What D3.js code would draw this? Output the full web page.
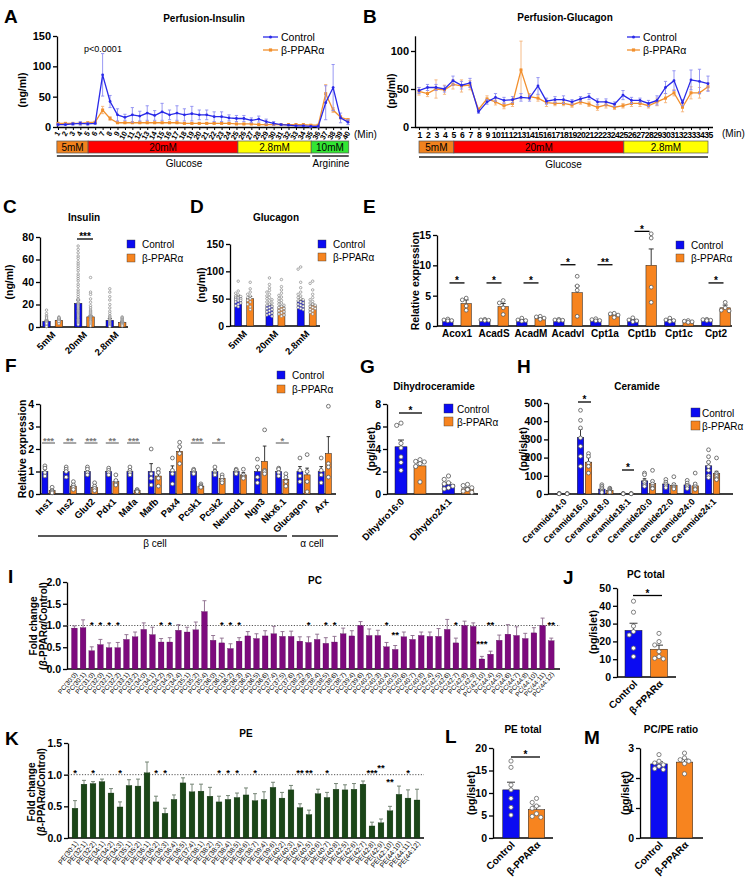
<!DOCTYPE html>
<html><head><meta charset="utf-8">
<script src="https://cdn.jsdelivr.net/npm/d3@7/dist/d3.min.js"></script>
<style>
html,body{margin:0;padding:0;background:#fff;}
svg{display:block;font-family:Arial,"Liberation Sans",Helvetica,sans-serif;}
</style></head><body>
<svg id="fig" width="745" height="881"></svg>
<script>
const FONT='Arial, "Liberation Sans", Helvetica, sans-serif';
// ================= DATA =================
const groupNames=["Control","β-PPARα"];
// A: perfusion insulin
const minA=[1,2,3,4,5,6,7,8,9,10,11,12,13,14,15,16,17,18,19,20,21,22,23,24,25,26,27,28,29,30,31,32,33,34,35,36,37,38,39,40];
const insCtrl=[4,4,5,6,5,6,86,42,20,16,20,18,23,19,25,20,23,20,22,20,20,17,17,15,14,14,11,13,9,6,4,3,2,2,1,1,40,65,15,8];
const insCtrlErr=[2,2,2,3,2,2,35,10,10,5,12,8,12,8,14,8,12,10,12,8,8,8,8,5,5,5,4,5,4,3,1,1,1,1,1,1,28,38,8,4];
const insPP=[6,6,6,6,7,8,28,14,7,7,7,7,7,7,7,7,7,6,6,6,6,6,6,6,5,5,5,4,4,4,4,4,4,4,3,3,55,28,16,12];
const insPPErr=[1,1,1,1,1,1,6,3,1,1,1,1,1,1,1,1,1,1,1,1,1,1,1,1,1,1,1,1,1,1,1,1,1,1,1,1,15,4,3,2];
const condA=[{lab:"5mM",from:0.85,to:5.05,col:"#f0821e"},{lab:"20mM",from:5.05,to:25.2,col:"#ff0000"},{lab:"2.8mM",from:25.2,to:35.05,col:"#ffff00"},{lab:"10mM",from:35.05,to:40.1,col:"#33e633"}];
// B: perfusion glucagon
const minB=[1,2,3,4,5,6,7,8,9,10,11,12,13,14,15,16,17,18,19,20,21,22,23,24,25,26,27,28,29,30,31,32,33,34,35];
const gluCtrl=[48,52,52,50,61,55,58,20,33,39,35,36,39,38,54,34,36,36,33,37,40,33,33,30,42,35,35,31,35,52,61,32,62,60,57];
const gluCtrlErr=[4,4,4,4,6,5,6,2,3,5,4,4,5,4,11,4,4,5,3,3,4,4,4,3,6,4,3,4,6,8,13,4,13,16,10];
const gluPP=[47,44,50,49,56,54,55,23,37,33,28,31,75,40,38,32,31,31,29,33,30,26,29,26,28,31,31,28,33,38,45,26,45,45,53];
const gluPPErr=[5,4,12,6,6,8,6,2,4,4,4,4,38,4,4,5,3,3,3,3,3,4,4,3,3,4,4,3,5,6,4,6,8,7,5];
const condB=[{lab:"5mM",from:1,to:5.1,col:"#f0821e"},{lab:"20mM",from:5.1,to:25.1,col:"#ff0000"},{lab:"2.8mM",from:25.1,to:35,col:"#ffff00"}];
// C, D: static secretion
const glucoseCats=["5mM","20mM","2.8mM"];
const cCtrl=[5,21,6], cCtrlErr=[1,3,1.5], cPP=[6,9,4], cPPErr=[0.5,1,0.6];
const cCtrlDots=[[15,12,10,9,7,6,6,5,5,4,4,3,3,3,2,2,2,1,1,1,0.5,0.5,4,8,3],
 [72,69,66,63,61,58,56,54,52,50,47,45,43,41,38,36,33,31,29,27,25,24,22,21,20,19,18,17,16,15,14,13,12,11,10,9,8,7,6,5,4,3,2],
 [34,31,27,24,20,17,14,12,10,9,8,7,6,5,4,4,3,3,2,2,1,1,0.5]];
const cPPDots=[[9,8,8,7,7,6,6,6,5,5,5,4,4,3,7,8,6,5],
 [44,31,29,25,22,19,17,15,14,13,12,11,10,10,9,9,8,8,7,7,6,6,5,5,4,3,2,1],
 [9,8,8,7,6,6,5,5,4,4,4,3,3,2,2,1]];
const dCtrl=[53,38,47], dCtrlErr=[3,2,3], dPP=[50,35,38], dPPErr=[4,2,2];
const dCtrlDots=[[82,64,60,57,55,54,52,51,50,49,48,47,46,44,42,40,37,35],
 [88,76,70,65,62,58,55,52,50,48,46,44,42,40,38,36,34,32,30,28,26,24,22,20,18],
 [108,104,80,70,62,58,55,52,50,48,46,44,42,40,38,36,34,32,30]];
const dPPDots=[[80,68,62,58,55,52,50,47,44,40,35,30],
 [85,72,66,60,56,53,50,47,45,42,40,38,36,34,32,30,28,26,24,22,20,18],
 [82,78,66,58,52,48,45,42,40,38,36,34,32,30,28,25,22]];
// E: FAO genes
const eGenes=["Acox1","AcadS","AcadM","Acadvl","Cpt1a","Cpt1b","Cpt1c","Cpt2"];
const eCtrl=[1,1,1,1,1,1,1,1], eCtrlErr=[0.1,0.08,0.1,0.08,0.1,0.15,0.12,0.08];
const ePP=[3.7,3.2,1.3,5.5,1.8,10,0.7,3.0], ePPErr=[0.6,0.5,0.15,1.1,0.2,2.7,0.1,0.45];
const eCtrlDots=[[1.15,1.0,0.9,0.85],[1.1,1.0,0.95,0.9],[1.3,1.0,0.9,0.8],[1.1,1.0,0.95,0.9],[1.2,1.05,0.9,0.85],[1.35,1.0,0.85,0.7],[1.3,1.0,0.9,0.75],[1.1,1.05,0.95,0.9]];
const ePPDots=[[4.6,4.3,3.3,2.6],[4.2,3.8,3.0,1.9],[1.6,1.5,1.3,1.1],[8.2,6.6,5.9,1.6],[2.1,2.0,1.8,1.4],[15.2,14.5,6.4,3.9],[0.9,0.8,0.7,0.6],[3.9,3.0,2.6,2.5]];
const eSig=["*","*","*","*","**","*","","*"], eSigLevel=[7.1,7.1,7.1,10.1,10.1,15.6,0,7.1];
// F: islet genes
const fGenes=["Ins1","Ins2","Glut2","Pdx1","Mafa","Mafb","Pax4","Pcsk1","Pcsk2","Neurod1","Ngn3","Nkx6.1","Glucagon","Arx"];
const fCtrl=[1,1,1,1,1,1,1,1,1,1,1,1,1,1];
const fCtrlErr=[0.1,0.1,0.1,0.07,0.08,0.35,0.25,0.05,0.08,0.05,0.22,0.08,0.22,0.22];
const fPP=[0.15,0.35,0.3,0.55,0.15,0.8,1.9,0.35,0.7,0.85,1.45,0.65,0.85,1.8];
const fPPErr=[0.05,0.08,0.07,0.08,0.03,0.2,0.2,0.04,0.1,0.1,0.68,0.12,0.3,0.75];
const fCtrlDots=[[1.25,1.15,0.95,0.8],[1.2,1.1,1.0,0.75],[1.2,1.1,0.95,0.85],[1.15,1.05,0.95,0.85],[1.2,1.05,0.95,0.85],[2.0,0.9,0.7,0.4],[1.6,1.05,0.9,0.45],[1.1,1.05,0.95,0.9],[1.2,1.0,0.9,0.85],[1.1,1.05,0.95,0.9],[1.55,1.2,0.75,0.5],[1.15,1.1,0.95,0.8],[1.6,1.05,0.8,0.55],[1.6,1.05,0.85,0.5]];
const fPPDots=[[0.3,0.15,0.1,0.05],[0.55,0.4,0.3,0.2],[0.5,0.35,0.25,0.15],[0.85,0.6,0.45,0.4],[0.2,0.15,0.1,0.1],[1.1,0.95,0.7,0.35],[2.3,2.1,1.8,1.35],[0.45,0.38,0.33,0.3],[0.85,0.75,0.6,0.5],[1.1,0.85,0.75,0.7],[2.85,1.05,1.0,0.9],[0.9,0.75,0.55,0.35],[1.75,1.0,0.55,0.1],[3.9,1.35,1.2,0.75]];
const fSig=["***","**","***","**","***","","","***","*","","","*","",""];
const cellGroups=[{lab:"β cell",from:0,to:11},{lab:"α cell",from:12,to:13}];
// G: dihydroceramide
const gCats=["Dihydro16:0","Dihydro24:1"];
const gCtrl=[4.2,0.85], gCtrlErr=[0.6,0.15], gPP=[2.5,0.45], gPPErr=[0.28,0.1];
const gCtrlDots=[[6.3,6.1,4.5,4.1,3.3,2.8,2.1],[1.6,1.3,1.0,0.9,0.7,0.55,0.45]];
const gPPDots=[[3.05,2.9,2.85,2.7,2.45,1.07],[0.85,0.75,0.55,0.4,0.25,0.15]];
// H: ceramide
const hCats=["Ceramide14:0","Ceramide16:0","Ceramide18:0","Ceramide18:1","Ceramide20:0","Ceramide22:0","Ceramide24:0","Ceramide24:1"];
const hCtrl=[2,310,27,2,72,55,50,155], hCtrlErr=[0.5,45,6,0.5,12,9,8,22];
const hPP=[2,175,20,2,57,47,45,112], hPPErr=[0.5,25,4,0.5,14,11,15,13];
const hCtrlDots=[[3,2,2,1],[460,405,363,308,262,207,152],[51,42,33,24,15,9],[3,2,1],[115,106,70,64,51,42],[80,65,55,45,35],[75,60,48,40,30],[243,205,175,150,130,101,90]];
const hPPDots=[[3,2,1],[222,207,170,152,115],[32,27,20,15,10],[3,2,1],[130,70,55,42,33,30],[95,52,40,35,28],[115,55,40,30,25],[198,115,106,97,85,79]];
// I: PC species
const pcSpecies=["PC(30:0)","PC(30:1)","PC(31:0)","PC(32:0)","PC(32:1)","PC(32:2)","PC(33:1)","PC(33:2)","PC(34:0)","PC(34:1)","PC(34:2)","PC(34:3)","PC(34:4)","PC(35:1)","PC(35:2)","PC(35:4)","PC(36:0)","PC(36:1)","PC(36:2)","PC(36:3)","PC(36:4)","PC(36:5)","PC(36:6)","PC(37:4)","PC(37:5)","PC(37:6)","PC(38:2)","PC(38:3)","PC(38:4)","PC(38:5)","PC(38:6)","PC(38:7)","PC(39:4)","PC(39:6)","PC(40:2)","PC(40:3)","PC(40:4)","PC(40:5)","PC(40:6)","PC(40:7)","PC(40:8)","PC(42:4)","PC(42:5)","PC(42:6)","PC(42:7)","PC(42:8)","PC(42:9)","PC(42:10)","PC(44:4)","PC(44:5)","PC(44:6)","PC(44:7)","PC(44:8)","PC(44:10)","PC(44:11)","PC(44:12)"];
const pcFC=[0.94,0.95,0.42,0.56,0.49,0.49,0.68,0.74,0.91,0.79,0.62,0.62,0.89,0.85,0.90,1.32,0.66,0.60,0.47,0.64,0.76,0.70,0.76,0.81,0.75,0.75,0.64,0.61,0.68,0.59,0.62,0.81,0.76,1.00,0.77,0.77,0.51,0.45,0.74,0.68,0.77,0.75,0.75,0.91,0.60,1.00,0.98,0.23,0.34,0.66,0.80,0.77,0.70,0.83,1.00,0.65];
const pcErr=[0.05,0.18,0.09,0.12,0.11,0.12,0.11,0.11,0.15,0.17,0.08,0.10,0.13,0.11,0.18,0.25,0.11,0.11,0.11,0.08,0.10,0.11,0.12,0.17,0.11,0.12,0.10,0.13,0.12,0.13,0.13,0.13,0.12,0.09,0.15,0.12,0.10,0.09,0.11,0.09,0.08,0.10,0.18,0.23,0.11,0.10,0.08,0.06,0.07,0.12,0.22,0.20,0.12,0.12,0.17,0.06];
const pcSig=["","","*","*","*","*","","","","","*","*","","","","","","*","*","*","","","","","","","","*","","*","*","","","","","","*","**","","","","","","","*","","","***","**","","","","","","","**"];
const pcSigLevel=[0,0,1.07,1.07,1.07,1.07,0,0,0,0,1.07,1.07,0,0,0,0,0,1.07,1.07,1.07,0,0,0,0,0,0,0,1.07,0,1.07,1.07,0,0,0,0,0,1.07,0.85,0,0,0,0,0,0,1.07,0,0,0.64,1.07,0,0,0,0,0,0,1.07];
// J: PC total
const jCtrl=26.2, jCtrlErr=4, jPP=15.6, jPPErr=2.3;
const jCtrlDots=[42.6,36.4,28.6,25.5,23.6,16.2,11.5], jPPDots=[24.5,19.9,18,14.3,11.5,10.5,10.2];
// K: PE species
const peSpecies=["PE(30:1)","PE(32:1)","PE(32:2)","PE(34:1)","PE(34:2)","PE(34:3)","PE(35:1)","PE(35:2)","PE(36:1)","PE(36:2)","PE(36:3)","PE(36:4)","PE(36:5)","PE(37:4)","PE(38:1)","PE(38:2)","PE(38:3)","PE(38:4)","PE(38:5)","PE(38:6)","PE(38:7)","PE(39:4)","PE(39:6)","PE(40:2)","PE(40:3)","PE(40:4)","PE(40:5)","PE(40:6)","PE(40:7)","PE(40:8)","PE(42:5)","PE(42:6)","PE(42:7)","PE(42:8)","PE(42:9)","PE(42:10)","PE(44:10)","PE(44:11)","PE(44:12)"];
const peFC=[0.47,0.85,0.86,0.89,0.71,0.49,0.83,0.82,1.03,0.57,0.39,0.61,0.87,0.73,0.74,0.66,0.57,0.61,0.64,0.68,0.59,0.61,0.80,0.63,0.76,0.48,0.37,0.70,0.64,0.77,0.76,0.77,0.85,0.19,0.24,0.43,0.69,0.63,0.60];
const peErr=[0.12,0.06,0.03,0.04,0.07,0.08,0.09,0.11,0.17,0.09,0.08,0.07,0.08,0.12,0.11,0.14,0.09,0.06,0.07,0.11,0.11,0.12,0.08,0.09,0.07,0.06,0.07,0.07,0.08,0.09,0.08,0.09,0.05,0.06,0.06,0.07,0.13,0.13,0.17];
const peSig=["*","","*","","","*","","","","*","*","","","","","","*","*","*","","*","","","","","**","**","","*","","","","","***","**","**","","*",""];
const peSigLevel=[1.06,0,1.06,0,0,1.06,0,0,0,1.06,1.06,0,0,0,0,0,1.06,1.06,1.06,0,1.06,0,0,0,0,1.06,1.06,0,1.06,0,0,0,0,1.06,1.15,0.92,0,1.06,0];
// L: PE total, M: PC/PE ratio
const lCtrl=10.7, lCtrlErr=1.7, lPP=6.3, lPPErr=0.8;
const lCtrlDots=[17.1,15.7,11.8,10.7,8.8,6.8,5.1], lPPDots=[8.8,7.9,7.1,6.6,5.4,4.8,4.6];
const mCtrl=2.47, mCtrlErr=0.07, mPP=2.53, mPPErr=0.1;
const mCtrlDots=[2.78,2.56,2.5,2.44,2.39,2.31,2.28], mPPDots=[2.83,2.67,2.61,2.56,2.48,2.14];

// ================= DRAWING =================
const svg=d3.select('#fig');
const BLUE='#0b0bf2', ORANGE='#f7841f', LBLUE='#2a2ae8', LOR='#f2902e', PURPLE='#7d0a7d', GREEN='#1b4618';
const intFmt=d3.format('d');

function T(x,y,s,o={}){
  return svg.append('text').attr('x',x).attr('y',y).attr('font-size',o.fs||10)
   .attr('font-weight',o.fw||'normal').attr('text-anchor',o.a||'start').attr('fill',o.c||'#000').text(s);
}
function letter(x,y,s){T(x,y,s,{fs:19,fw:'bold'});}
function title(x,y,s){T(x,y,s,{fs:10,fw:'bold',a:'middle'});}
function yLab(x,y,s,fs=10.5){
  svg.append('text').attr('transform',`translate(${x},${y}) rotate(-90)`).attr('dy','0.35em')
   .attr('text-anchor','middle').attr('font-size',fs).attr('font-weight','bold').text(s);
}
function yAx(y,x,ticks,fs=10.5,fmt){
  const ax=d3.axisLeft(y).tickValues(ticks).tickSize(4).tickSizeOuter(0).tickPadding(2).tickFormat(fmt||intFmt);
  const g=svg.append('g').attr('transform',`translate(${x},0)`).call(ax);
  g.attr('font-family',FONT).attr('font-size',fs);
  g.select('.domain').attr('stroke','#000').attr('stroke-width',1.3);
  g.selectAll('.tick line').attr('stroke','#000').attr('stroke-width',1.3);
  g.selectAll('.tick text').attr('font-weight','bold').attr('fill','#000');
  return g;
}
function hLine(x1,x2,y,sw=1.3,c='#000',dash){
  const l=svg.append('line').attr('x1',x1).attr('x2',x2).attr('y1',y).attr('y2',y).attr('stroke',c).attr('stroke-width',sw);
  if(dash) l.attr('stroke-dasharray',dash);
  return l;
}
function star(x,yc,s,fs=10,c='#000'){ if(s) T(x,yc+0.58*fs,s,{fs:fs,fw:'bold',a:'middle',c:c}); }
function sigBar(x1,x2,yl,s,c='#000',fs=10){ hLine(x1,x2,yl,1.3,c); star((x1+x2)/2,yl-4.5,s,fs,c); }

function swarm(vals,y,r,maxOff){
  const placed=[];
  return vals.map(v=>{
    const py=y(v), step=r*2.05; let best=0,bestD=-1;
    for(let n=0;n<40;n++){
      const c=n===0?0:(n%2?-1:1)*Math.ceil(n/2)*step;
      if(Math.abs(c)>maxOff+0.01) break;
      const dmin=placed.length?d3.min(placed,p=>Math.hypot(p[0]-c,p[1]-py)):Infinity;
      if(dmin>=2*r){best=c;bestD=dmin;break;}
      if(dmin>bestD){bestD=dmin;best=c;}
    }
    placed.push([best,py]);
    return [best,py];
  });
}

function barsPanel(o){
  const xb=d3.scaleBand().domain(o.cats).range(o.xr).padding(0);
  const idx=o.cats.map((c,i)=>i);
  const cxOf=(i,k)=>xb(o.cats[i])+xb.bandwidth()/2+(o.offs?o.offs[k]:0);
  o.series.forEach((s,k)=>{
    const cx=i=>cxOf(i,k);
    const g=svg.append('g');
    const fill=i=>Array.isArray(s.fill)?s.fill[i]:s.fill;
    const ecol=o.ecol||'#222', esw=o.esw||0.9;
    if(s.e){
      g.selectAll('line.eb').data(idx).join('line').attr('class','eb')
       .attr('x1',cx).attr('x2',cx).attr('y1',i=>o.y(s.m[i])).attr('y2',i=>o.y(s.m[i]+s.e[i]))
       .attr('stroke',ecol).attr('stroke-width',esw);
      g.selectAll('line.cap').data(idx).join('line').attr('class','cap')
       .attr('x1',i=>cx(i)-o.cap).attr('x2',i=>cx(i)+o.cap)
       .attr('y1',i=>o.y(s.m[i]+s.e[i])).attr('y2',i=>o.y(s.m[i]+s.e[i]))
       .attr('stroke',ecol).attr('stroke-width',esw);
    }
    g.selectAll('rect').data(idx).join('rect')
     .attr('x',i=>cx(i)-o.bw/2).attr('width',o.bw)
     .attr('y',i=>o.y(s.m[i])).attr('height',i=>o.y(0)-o.y(s.m[i]))
     .attr('fill',fill).attr('stroke',o.bstroke||'#1a1a1a').attr('stroke-width',o.bsw||0.5);
    if(s.d){
      idx.forEach(i=>{
        const pts=swarm(s.d[i],o.y,o.dr,o.spread!=null?o.spread:o.bw/2);
        g.selectAll(null).data(pts).join('circle').attr('cx',p=>cx(i)+p[0]).attr('cy',p=>p[1]).attr('r',o.dr)
         .attr('fill','#fff').attr('stroke',o.dcol||'#555').attr('stroke-width',o.dsw||0.7);
      });
    }
  });
  return {xb,cx:cxOf};
}
function rotLabels(pos,labels,y0,fs,angle=-45,dx=2,dy=5,fw='bold'){
  labels.forEach((s,i)=>{
    svg.append('text').attr('transform',`translate(${pos(i)+dx},${y0+dy}) rotate(${angle})`)
     .attr('text-anchor','end').attr('dy','0.35em').attr('font-size',fs).attr('font-weight',fw).text(s);
  });
}
function sqLegend(x,ys,tx,size=8,fs=10){
  [[BLUE,groupNames[0]],[ORANGE,groupNames[1]]].forEach(([c,s],i)=>{
    svg.append('rect').attr('x',x).attr('y',ys[i]).attr('width',size).attr('height',size).attr('fill',c).attr('stroke','#333').attr('stroke-width',0.4);
    T(tx,ys[i]+size-0.3,s,{fs:fs});
  });
}

// ---------- line charts (A, B) ----------
function linePanel(o){
  const {x,y}=o;
  [[o.pp,o.ppE,LOR,'#f5b47a','sq'],[o.ctrl,o.ctrlE,LBLUE,'#8c8cf2','ci']].forEach(([v,e,col,ecol,mk])=>{
    const g=svg.append('g');
    const idx=v.map((d,i)=>i);
    const X=i=>x(o.xs[i]);
    g.selectAll('line.eb').data(idx).join('line').attr('class','eb').attr('x1',X).attr('x2',X)
     .attr('y1',i=>y(Math.max(0,v[i]-e[i]))).attr('y2',i=>y(v[i]+e[i])).attr('stroke',ecol).attr('stroke-width',0.9);
    g.selectAll('line.c1').data(idx).join('line').attr('class','c1').attr('x1',i=>X(i)-1.6).attr('x2',i=>X(i)+1.6)
     .attr('y1',i=>y(v[i]+e[i])).attr('y2',i=>y(v[i]+e[i])).attr('stroke',ecol).attr('stroke-width',0.9);
    g.selectAll('line.c2').data(idx).join('line').attr('class','c2').attr('x1',i=>X(i)-1.6).attr('x2',i=>X(i)+1.6)
     .attr('y1',i=>y(Math.max(0,v[i]-e[i]))).attr('y2',i=>y(Math.max(0,v[i]-e[i]))).attr('stroke',ecol).attr('stroke-width',0.9);
    g.append('path').datum(idx).attr('fill','none').attr('stroke',col).attr('stroke-width',1.3)
     .attr('d',d3.line().x(X).y(i=>y(v[i])));
    if(mk==='ci') g.selectAll('circle').data(idx).join('circle').attr('cx',X).attr('cy',i=>y(v[i])).attr('r',1.4).attr('fill',col);
    else g.selectAll('rect').data(idx).join('rect').attr('x',i=>X(i)-1.5).attr('y',i=>y(v[i])-1.5).attr('width',3).attr('height',3).attr('fill',col);
  });
}
function lineLegend(x1,x2,ys,tx){
  [[LBLUE,'ci',groupNames[0]],[LOR,'sq',groupNames[1]]].forEach(([c,mk,s],i)=>{
    hLine(x1,x2,ys[i],1.3,c);
    const xm=(x1+x2)/2;
    if(mk==='ci') svg.append('circle').attr('cx',xm).attr('cy',ys[i]).attr('r',1.5).attr('fill',c);
    else svg.append('rect').attr('x',xm-1.6).attr('y',ys[i]-1.6).attr('width',3.2).attr('height',3.2).attr('fill',c);
    T(tx,ys[i]+3.6,s,{fs:10.5});
  });
}
function condBar(x,cond,yTop,h,lineY,groupsLab){
  cond.forEach(c=>{
    svg.append('rect').attr('x',x(c.from)).attr('y',yTop).attr('width',x(c.to)-x(c.from)).attr('height',h)
     .attr('fill',c.col).attr('stroke','#555').attr('stroke-width',0.7);
    T((x(c.from)+x(c.to))/2,yTop+h-2.2,c.lab,{fs:10,a:'middle'});
  });
  groupsLab.forEach(gl=>{
    hLine(x(gl.from)+gl.pad0,x(gl.to)+gl.pad1,lineY,1.4,'#222');
    T((x(gl.from)+x(gl.to))/2+gl.tdx,lineY+10.5,gl.lab,{fs:10,a:'middle'});
  });
}

// ===== Panel A =====
{
  const x=d3.scaleLinear().domain([1,40]).range([58,348]);
  const y=d3.scaleLinear().domain([0,150]).range([127,36]);
  letter(4,23,'A'); title(204,22,'Perfusion-Insulin');
  yAx(y,57,[0,50,100,150],11);
  yLab(22,90,'(ng/ml)',10.5);
  const gx=svg.append('g').attr('transform',`translate(0,${y(0)})`).call(d3.axisBottom(x).tickValues(minA).tickSize(3).tickSizeOuter(0).tickFormat(intFmt));
  gx.attr('font-family',FONT).attr('font-size',7.5);
  gx.select('.domain').attr('stroke-width',1.3).attr('d',`M57,0.5H349`);
  gx.selectAll('.tick line').attr('stroke-width',1);
  gx.selectAll('.tick text').attr('y',0).attr('dy',0).attr('font-weight','bold').attr('text-anchor','end')
    .attr('transform','translate(2,6) rotate(-62)');
  T(354,138,'(Min)',{fs:10});
  linePanel({x,y,xs:minA,ctrl:insCtrl,ctrlE:insCtrlErr,pp:insPP,ppE:insPPErr});
  T(103,52,'p<0.0001',{fs:9,a:'middle'});
  lineLegend(263,278,[37,50],281);
  condBar(x,condA,141,12,156,[{lab:'Glucose',from:0.85,to:35.05,pad0:0,pad1:-1,tdx:0},{lab:'Arginine',from:35.05,to:40.1,pad0:1,pad1:0,tdx:1}]);
}
// ===== Panel B =====
{
  const x=d3.scaleLinear().domain([1,35]).range([419,708]);
  const y=d3.scaleLinear().domain([0,120]).range([127,35.8]);
  letter(363,23,'B'); title(565,21,'Perfusion-Glucagon');
  yAx(y,415,[0,50,100],11);
  yLab(391,91,'(pg/ml)',10.5);
  const gx=svg.append('g').attr('transform',`translate(0,${y(0)})`).call(d3.axisBottom(x).tickValues(minB).tickSize(3).tickSizeOuter(0).tickFormat(intFmt));
  gx.attr('font-family',FONT).attr('font-size',8.6);
  gx.select('.domain').attr('stroke-width',1.3).attr('d',`M415,0.5H713`);
  gx.selectAll('.tick line').attr('stroke-width',1);
  gx.selectAll('.tick text').attr('font-weight','bold').attr('letter-spacing','-0.6').attr('y',5);
  T(722,137,'(Min)',{fs:10});
  linePanel({x,y,xs:minB,ctrl:gluCtrl,ctrlE:gluCtrlErr,pp:gluPP,ppE:gluPPErr});
  lineLegend(627,640,[37,50],643);
  condBar(x,condB,141,12,157,[{lab:'Glucose',from:1,to:35,pad0:0,pad1:0,tdx:0}]);
}
// ===== Panel C =====
{
  const y=d3.scaleLinear().domain([0,80]).range([327,237]);
  letter(3,213,'C'); title(84,221,'Insulin');
  yAx(y,40,[0,20,40,60,80],10.5); hLine(40,128,327);
  yLab(9,282,'(ng/ml)',10.5);
  const p=barsPanel({cats:glucoseCats,xr:[36.9,131.8],y,offs:[-6.2,6.2],bw:7.5,cap:2,dr:1.25,dsw:0.6,dcol:'#777',spread:1.3,
    series:[{m:cCtrl,e:cCtrlErr,d:cCtrlDots,fill:BLUE},{m:cPP,e:cPPErr,d:cPPDots,fill:ORANGE}]});
  sigBar(77,93,239,'***');
  rotLabels(i=>p.xb(glucoseCats[i])+p.xb.bandwidth()/2,glucoseCats,327,9.5,-45,1,6);
  sqLegend(127,[240,254],142);
}
// ===== Panel D =====
{
  const y=d3.scaleLinear().domain([0,150]).range([326,244]);
  letter(190,213,'D'); title(276,221,'Glucagon');
  yAx(y,230,[0,50,100,150],10.5); hLine(230,320,326);
  yLab(201,285,'(ng/ml)',10.5);
  const p=barsPanel({cats:glucoseCats,xr:[228.6,322.3],y,offs:[-6,6],bw:7,cap:2,dr:1.25,dsw:0.6,dcol:'#777',spread:2.6,
    series:[{m:dCtrl,e:dCtrlErr,d:dCtrlDots,fill:BLUE},{m:dPP,e:dPPErr,d:dPPDots,fill:ORANGE}]});
  rotLabels(i=>p.xb(glucoseCats[i])+p.xb.bandwidth()/2,glucoseCats,326,9.5,-45,1,6);
  sqLegend(318,[240,253],333);
}
// ===== Panel E =====
{
  const y=d3.scaleLinear().domain([0,15]).range([326,235]);
  letter(363,213,'E');
  yAx(y,437,[0,5,10,15],10.5); hLine(437,732,326);
  yLab(415,281,'Relative expression',10.5);
  const p=barsPanel({cats:eGenes,xr:[438.5,734.5],y,offs:[-9.2,9.2],bw:10.5,cap:2.5,dr:1.9,dsw:0.8,spread:4,
    series:[{m:eCtrl,e:eCtrlErr,d:eCtrlDots,fill:BLUE},{m:ePP,e:ePPErr,d:ePPDots,fill:ORANGE}]});
  eGenes.forEach((gname,i)=>{
    const c=p.xb(gname)+p.xb.bandwidth()/2;
    T(c,337,gname,{fs:10,fw:'bold',a:'middle'});
    if(eSig[i]) sigBar(c-7.5,c+7.5,y(eSigLevel[i]),eSig[i]);
  });
  sqLegend(676,[241,254],691);
}
// ===== Panel F =====
{
  const y=d3.scaleLinear().domain([0,4]).range([494,404]);
  letter(5,372,'F');
  yAx(y,40,[0,1,2,3,4],10.5); hLine(40,336,494);
  yLab(22,449,'Relative expression',10.5);
  const p=barsPanel({cats:fGenes,xr:[37.9,335.4],y,offs:[-3.6,3.6],bw:6,cap:1.8,dr:1.9,dsw:0.8,spread:2.5,
    series:[{m:fCtrl,e:fCtrlErr,d:fCtrlDots,fill:BLUE},{m:fPP,e:fPPErr,d:fPPDots,fill:ORANGE}]});
  const cen=i=>p.xb(fGenes[i])+p.xb.bandwidth()/2;
  fGenes.forEach((gname,i)=>{ if(fSig[i]) sigBar(cen(i)-6.5,cen(i)+6.5,443,fSig[i],'#777',9.5); });
  rotLabels(cen,fGenes,494,9.5,-45,2,6);
  hLine(38,287,536,1.4,'#222'); T(155,547,cellGroups[0].lab,{fs:10,a:'middle'});
  hLine(292,338,536,1.4,'#222'); T(312,547,cellGroups[1].lab,{fs:10,a:'middle'});
  sqLegend(277,[371,385],292);
}
// ===== Panel G =====
{
  const y=d3.scaleLinear().domain([0,8]).range([494,404]);
  letter(360,373,'G'); title(434,390,'Dihydroceramide');
  yAx(y,387,[0,2,4,6,8],10.5); hLine(387,478,494);
  yLab(371,449,'(pg/islet)',10.5);
  const p=barsPanel({cats:gCats,xr:[386.75,481.75],y,offs:[-9.5,9.5],bw:12,cap:3,dr:2.1,dsw:0.8,spread:5,
    series:[{m:gCtrl,e:gCtrlErr,d:gCtrlDots,fill:BLUE},{m:gPP,e:gPPErr,d:gPPDots,fill:ORANGE}]});
  sigBar(399,422,413,'*');
  rotLabels(i=>p.xb(gCats[i])+p.xb.bandwidth()/2,gCats,494,9.5,-45,-8,6);
  sqLegend(444,[404,417],457,9);
}
// ===== Panel H =====
{
  const y=d3.scaleLinear().domain([0,500]).range([494,403]);
  letter(517,373,'H'); title(637,390,'Ceramide');
  yAx(y,548,[0,100,200,300,400,500],10.5); hLine(548,733,494);
  yLab(523,449,'(pg/islet)',10.5);
  const p=barsPanel({cats:hCats,xr:[552.5,723.2],y,offs:[-4,4],bw:6.5,cap:1.8,dr:1.9,dsw:0.8,spread:2.5,
    series:[{m:hCtrl,e:hCtrlErr,d:hCtrlDots,fill:BLUE},{m:hPP,e:hPPErr,d:hPPDots,fill:ORANGE}]});
  sigBar(578,591,402,'*'); sigBar(622,634,470,'*');
  rotLabels(i=>p.xb(hCats[i])+p.xb.bandwidth()/2,hCats,494,9,-45,2,6);
  sqLegend(691,[408,421],702,9);
}
// ===== Panel I =====
{
  const y=d3.scaleLinear().domain([0,2]).range([669,582]);
  letter(8,583,'I'); title(315,584,'PC');
  yAx(y,67,[0,0.5,1,1.5,2],10.5,d3.format('.1f')); hLine(67,560,669);
  hLine(67,560,y(1),0.9,'#444','1.2,1.6');
  yLab(33,626,'Fold change',10);
  {
    const t=svg.append('text').attr('transform','translate(43,626) rotate(-90)').attr('dy','0.35em').attr('text-anchor','middle').attr('font-size',10).attr('font-weight','bold');
    t.append('tspan').text('('); t.append('tspan').attr('font-style','italic').text('β');
    t.append('tspan').text('-PPAR'); t.append('tspan').attr('font-style','italic').text('α'); t.append('tspan').text('/Control)');
  }
  const p=barsPanel({cats:pcSpecies,xr:[70.07,555.6],y,bw:5.7,cap:2,ecol:'#8a6a8a',esw:0.9,bstroke:'#4a004a',bsw:0.3,
    series:[{m:pcFC,e:pcErr,fill:PURPLE}]});
  const cen=i=>p.xb(pcSpecies[i])+p.xb.bandwidth()/2;
  pcSig.forEach((s,i)=>{ if(s) star(cen(i),y(pcSigLevel[i]),s,9.5); });
  rotLabels(cen,pcSpecies,669,6.5,-50,1.5,4,'normal');
}
// ===== Panel J =====
{
  const y=d3.scaleLinear().domain([0,50]).range([677,588]);
  letter(563,584,'J'); title(646,578,'PC total');
  yAx(y,617,[0,10,20,30,40,50],10.5); hLine(617,676,677);
  yLab(593,632,'(pg/islet)',10.5);
  const p=barsPanel({cats:groupNames,xr:[620.75,671.75],y,bw:17,cap:4,dr:2.1,dsw:0.8,dcol:'#666',spread:5,
    series:[{m:[jCtrl,jPP],e:[jCtrlErr,jPPErr],d:[jCtrlDots,jPPDots],fill:[BLUE,ORANGE]}]});
  sigBar(633,662,595.5,'*');
  rotLabels(i=>p.xb(groupNames[i])+p.xb.bandwidth()/2,groupNames,677,10,-45,2,5);
}
// ===== Panel K =====
{
  const y=d3.scaleLinear().domain([0,1.5]).range([838,743]);
  letter(5,745,'K'); title(246,737,'PE');
  yAx(y,68,[0,0.5,1,1.5],10.5,d3.format('.1f')); hLine(68,424,838);
  hLine(68,424,y(1),0.9,'#444','1.2,1.6');
  yLab(31,792,'Fold change',10);
  {
    const t=svg.append('text').attr('transform','translate(41,792) rotate(-90)').attr('dy','0.35em').attr('text-anchor','middle').attr('font-size',10).attr('font-weight','bold');
    t.append('tspan').text('('); t.append('tspan').attr('font-style','italic').text('β');
    t.append('tspan').text('-PPAR'); t.append('tspan').attr('font-style','italic').text('α'); t.append('tspan').text('/Control)');
  }
  const p=barsPanel({cats:peSpecies,xr:[70.5,421.5],y,bw:5.8,cap:2,ecol:'#6a7a6a',esw:0.9,bstroke:'#0d2a0b',bsw:0.3,
    series:[{m:peFC,e:peErr,fill:GREEN}]});
  const cen=i=>p.xb(peSpecies[i])+p.xb.bandwidth()/2;
  peSig.forEach((s,i)=>{ if(s) star(cen(i),y(peSigLevel[i]),s,9.5); });
  rotLabels(cen,peSpecies,838,7,-52,1.5,4,'normal');
}
// ===== Panel L =====
{
  const y=d3.scaleLinear().domain([0,20]).range([838,748]);
  letter(445,743,'L'); title(523,733,'PE total');
  yAx(y,493,[0,5,10,15,20],10.5); hLine(493,553,838);
  yLab(471,793,'(pg/islet)',10.5);
  const p=barsPanel({cats:groupNames,xr:[498.25,549.25],y,bw:16.5,cap:4,dr:2.1,dsw:0.8,dcol:'#666',spread:5,
    series:[{m:[lCtrl,lPP],e:[lCtrlErr,lPPErr],d:[lCtrlDots,lPPDots],fill:[BLUE,ORANGE]}]});
  sigBar(511,540,757,'*');
  rotLabels(i=>p.xb(groupNames[i])+p.xb.bandwidth()/2,groupNames,838,10,-45,2,5);
}
// ===== Panel M =====
{
  const y=d3.scaleLinear().domain([0,3]).range([838,748]);
  letter(584,744,'M'); title(671,733,'PC/PE ratio');
  yAx(y,640,[0,1,2,3],10.5); hLine(640,703,838);
  yLab(625,793,'(pg/islet)',10.5);
  const p=barsPanel({cats:groupNames,xr:[646.25,697.25],y,bw:16.5,cap:4,dr:2.1,dsw:0.8,dcol:'#666',spread:5,
    series:[{m:[mCtrl,mPP],e:[mCtrlErr,mPPErr],d:[mCtrlDots,mPPDots],fill:[BLUE,ORANGE]}]});
  rotLabels(i=>p.xb(groupNames[i])+p.xb.bandwidth()/2,groupNames,838,10,-45,2,5);
}
</script>
</body></html>
